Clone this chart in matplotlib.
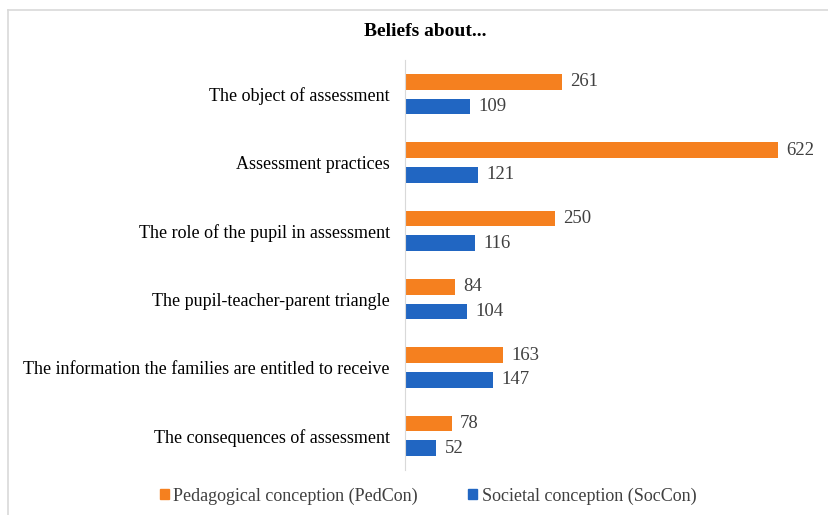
import numpy as np
import matplotlib
matplotlib.use('Agg')
import matplotlib.pyplot as plt
from matplotlib.patches import Patch
from matplotlib.lines import Line2D

# ── Data ───────────────────────────────────────────────────────────────────────
categories = [
    'The object of assessment',
    'Assessment practices',
    'The role of the pupil in assessment',
    'The pupil-teacher-parent triangle',
    'The information the families are entitled to receive',
    'The consequences of assessment',
]
pedcon = [261, 622, 250, 84, 163, 78]
soccon = [109, 121, 116, 104, 147, 52]
series_names = ['Pedagogical conception (PedCon)', 'Societal conception (SocCon)']

ORANGE = '#F5801F'
BLUE = '#2166C2'
TEXT = '#404040'

plt.rcParams['font.family'] = ['Liberation Serif', 'DejaVu Serif']

fig = plt.figure(figsize=(8.29, 5.15), dpi=100)
ax = fig.add_axes([405 / 829, 1 - 470 / 515, 420 / 829, 410 / 515])

y = np.arange(len(categories))
h = 0.23
off = 0.18
b1 = ax.barh(y - off, pedcon, height=h, color=ORANGE)
b2 = ax.barh(y + off, soccon, height=h, color=BLUE)

for bars, vals in ((b1, pedcon), (b2, soccon)):
    for bar, v in zip(bars, vals):
        ax.annotate(str(v), (bar.get_width(), bar.get_y() + bar.get_height() / 2),
                    xytext=(6, 0), textcoords='offset points',
                    va='center', ha='left', fontsize=13.5, color=TEXT)

ax.set_xlim(0, 700)
ax.set_ylim(len(categories) - 0.5, -0.5)
ax.set_yticks(y)
ax.set_yticklabels(categories, fontsize=13, color='black')
ax.tick_params(axis='y', length=0, pad=11)
ax.set_xticks([])
for s in ('top', 'right', 'bottom'):
    ax.spines[s].set_visible(False)
ax.spines['left'].set_color('#d9d9d9')

fig.text(425 / 829, 1 - 31 / 515, 'Beliefs about...', ha='center', va='center',
         fontsize=14, fontweight='bold')

# chart area frame
fig.add_artist(Line2D([8 / 829, 1], [1 - 10 / 515] * 2, color='#d9d9d9', lw=1.2))
fig.add_artist(Line2D([8 / 829] * 2, [0, 1 - 10 / 515], color='#d9d9d9', lw=1.2))

handles = [Patch(color=ORANGE), Patch(color=BLUE)]
leg = fig.legend(handles, series_names, loc='center', bbox_to_anchor=(428 / 829, 1 - 496 / 515),
                 ncol=2, frameon=False, fontsize=13, handlelength=0.5, handleheight=0.5,
                 handletextpad=0.25, columnspacing=2.8)
for t in leg.get_texts():
    t.set_color(TEXT)

fig.savefig('out.png', dpi=100)
